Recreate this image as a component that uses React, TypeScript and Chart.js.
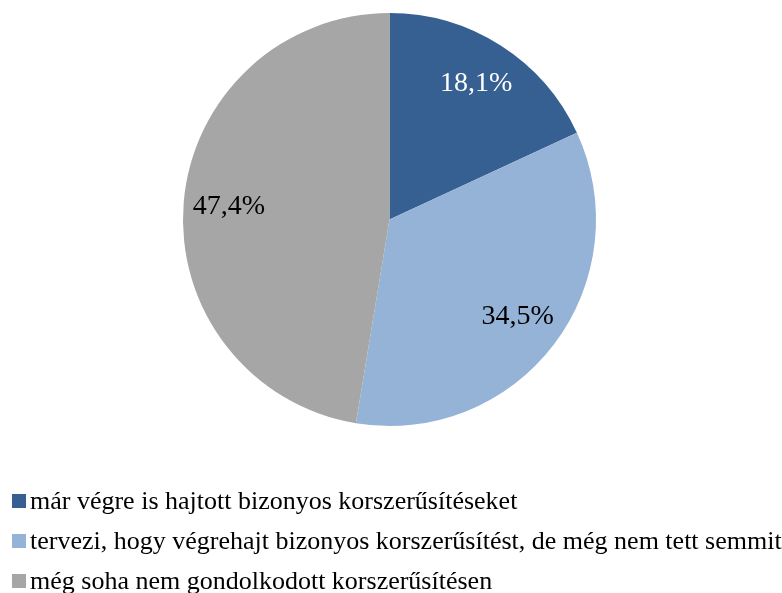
import React, { useEffect, useRef } from "react";
import { Chart, registerables } from "chart.js";

Chart.register(...registerables);

const categories = [
  "már végre is hajtott bizonyos korszerűsítéseket",
  "tervezi, hogy végrehajt bizonyos korszerűsítést, de még nem tett semmit",
  "még soha nem gondolkodott korszerűsítésen",
];
const values = [18.1, 34.5, 47.4];
const valueLabels = ["18,1%", "34,5%", "47,4%"];
const colors = ["#376092", "#95B3D7", "#A6A6A6"];
const labelColors = ["#FFFFFF", "#000000", "#000000"];

const SERIF = "'Liberation Serif', 'Times New Roman', serif";

const overlayPlugin = {
  id: "overlay",
  afterDraw(chart: any) {
    const ctx = chart.ctx;
    const meta = chart.getDatasetMeta(0);
    ctx.save();
    // value labels
    ctx.font = `28px ${SERIF}`;
    ctx.textAlign = "center";
    ctx.textBaseline = "middle";
    meta.data.forEach((arc: any, i: number) => {
      const p = arc.getProps(["x", "y", "startAngle", "endAngle", "outerRadius"], true);
      const mid = (p.startAngle + p.endAngle) / 2;
      const r = p.outerRadius * 0.78;
      ctx.fillStyle = labelColors[i];
      ctx.fillText(valueLabels[i], p.x + Math.cos(mid) * r, p.y + Math.sin(mid) * r);
    });
    // legend
    ctx.font = `26px ${SERIF}`;
    ctx.textAlign = "left";
    ctx.textBaseline = "alphabetic";
    const top = chart.chartArea.bottom;
    categories.forEach((c, i) => {
      const y = top + 75 + i * 40;
      ctx.fillStyle = colors[i];
      ctx.fillRect(12, y - 7, 14, 14);
      ctx.fillStyle = "#000";
      ctx.fillText(c, 30, y + 8);
    });
    ctx.restore();
  },
};

export default function App() {
  const ref = useRef<HTMLCanvasElement>(null);
  useEffect(() => {
    document.body.style.margin = "0";
    const chart = new Chart(ref.current!, {
      type: "pie",
      data: {
        labels: categories,
        datasets: [
          {
            data: values,
            backgroundColor: colors,
            borderWidth: 0,
          },
        ],
      },
      options: {
        animation: false,
        responsive: false,
        layout: { padding: { top: 13, bottom: 167, left: 0, right: 3 } },
        plugins: { legend: { display: false }, tooltip: { enabled: false } },
      },
      plugins: [overlayPlugin],
    });
    return () => chart.destroy();
  }, []);
  return (
    <div style={{ width: 782, height: 593 }}>
      <canvas ref={ref} width={782} height={593} style={{ display: "block" }} />
    </div>
  );
}
